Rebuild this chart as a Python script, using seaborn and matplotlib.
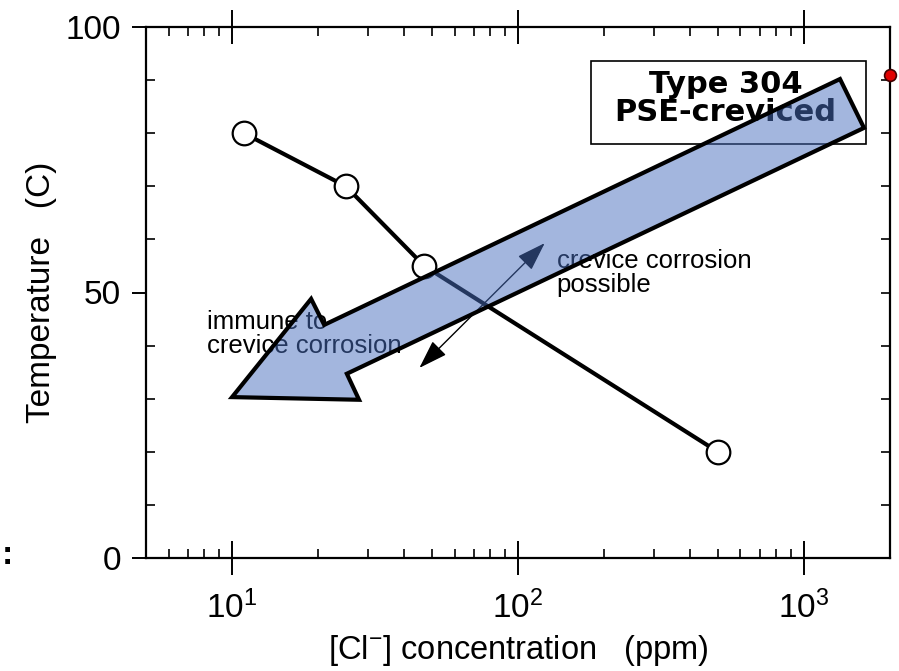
import matplotlib
matplotlib.use("Agg")
import matplotlib.pyplot as plt
import seaborn as sns
import numpy as np
import pandas as pd
from matplotlib.patches import Polygon, Rectangle
from matplotlib.ticker import FixedLocator, LogLocator, NullFormatter

# ---- data ----
chloride_ppm = [11, 25, 47, 500]
temperature_c = [80, 70, 55, 20]

x_limits = [5, 2000]
y_limits = [0, 100]
y_major = [0, 50, 100]
y_minor = [10, 20, 30, 40, 60, 70, 80, 90]

x_label = "[Cl$^{-}$] concentration   (ppm)"
y_label = "Temperature   (C)"
box_label = "Type 304\nPSE-creviced"
immune_label = "immune to\ncrevice corrosion"
possible_label = "crevice corrosion\npossible"

# big direction arrow outline (data coords: ppm, degC)
arrow_x = [1337, 1622, 25.2, 27.8, 10.0, 18.9, 21.0]
arrow_y = [90.2, 81.0, 34.7, 29.8, 30.3, 48.8, 43.9]

# thin double-headed arrow
dbl_start = (45.2, 35.8)
dbl_end = (124, 59.3)

df = pd.DataFrame({"chloride": chloride_ppm, "temperature": temperature_c})

sns.set_style("ticks")
plt.rcParams["font.family"] = ["Liberation Sans", "DejaVu Sans"]
plt.rcParams["mathtext.fontset"] = "custom"
plt.rcParams["mathtext.rm"] = "Liberation Sans"
plt.rcParams["mathtext.it"] = "Liberation Sans"
plt.rcParams["mathtext.default"] = "regular"
plt.rcParams["text.color"] = "black"
plt.rcParams["axes.labelcolor"] = "black"
plt.rcParams["xtick.color"] = "black"
plt.rcParams["ytick.color"] = "black"

fig = plt.figure(figsize=(8.99, 6.71), dpi=100)
ax = fig.add_axes([146 / 899, 1 - 558 / 671, (890 - 146) / 899, (558 - 27) / 671])
ax.set_xscale("log")

sns.lineplot(data=df, x="chloride", y="temperature", ax=ax, color="black",
             lw=3, marker="o", markersize=17, markerfacecolor="white",
             markeredgecolor="black", markeredgewidth=1.6, zorder=4)

ax.set_xlim(*x_limits)
ax.set_ylim(*y_limits)

for s in ax.spines.values():
    s.set_linewidth(1.6)
    s.set_color("black")
    s.set_visible(True)

# x ticks
ax.xaxis.set_major_locator(LogLocator(base=10, numticks=10))
ax.xaxis.set_minor_locator(LogLocator(base=10, subs=np.arange(2, 10), numticks=10))
ax.xaxis.set_minor_formatter(NullFormatter())
ax.tick_params(axis="x", which="major", direction="inout", length=25, width=1.4,
               top=True, bottom=True, labelsize=24, pad=11, colors="black")
ax.tick_params(axis="x", which="minor", direction="in", length=6.5, width=1.2,
               top=True, bottom=True)

# y ticks (left)
ax.yaxis.set_major_locator(FixedLocator(y_major))
ax.yaxis.set_minor_locator(FixedLocator(y_minor))
ax.tick_params(axis="y", which="major", direction="out", length=10, width=1.4,
               left=True, right=False, labelsize=24, pad=8, colors="black")
ax.tick_params(axis="y", which="minor", direction="in", length=6.5, width=1.2,
               left=True, right=False)

# y ticks (right, inward)
ax2 = ax.twinx()
ax2.set_ylim(*y_limits)
ax2.yaxis.set_major_locator(FixedLocator(y_major))
ax2.yaxis.set_minor_locator(FixedLocator(y_minor))
ax2.tick_params(axis="y", which="both", direction="in", length=6.5, width=1.2,
                labelright=False, right=True)
for s in ax2.spines.values():
    s.set_visible(False)
ax2.set_zorder(ax.get_zorder() - 1)
ax.patch.set_visible(False)

ax.set_xlabel(x_label, fontsize=23.5, labelpad=6, color="black")
ax.set_ylabel(y_label, fontsize=24, labelpad=6, color="black")

# legend-like box
ax.add_patch(Rectangle((0.598, 0.779), 0.370, 0.157, transform=ax.transAxes,
                       facecolor="white", edgecolor="black", lw=1.2, zorder=5))
ax.text(0.779, 0.866, box_label, transform=ax.transAxes, ha="center", va="center",
        fontsize=22, fontweight="bold", family="DejaVu Sans", linespacing=0.95,
        color="black", zorder=6)

# annotation texts
ax.text(8.17, 46.7, immune_label, ha="left", va="top", fontsize=18.5,
        linespacing=1.0, color="black", zorder=6)
ax.text(136.5, 58.2, possible_label, ha="left", va="top", fontsize=18.5,
        linespacing=1.0, color="black", zorder=6)

# thin double arrow
ax.annotate("", xy=dbl_end, xytext=dbl_start,
            arrowprops=dict(arrowstyle="<|-|>,head_length=0.9,head_width=0.3",
                            color="black", lw=1.0, mutation_scale=20,
                            shrinkA=0, shrinkB=0), zorder=6)

# big translucent arrow
verts = list(zip(arrow_x, arrow_y))
ax.add_patch(Polygon(verts, closed=True, facecolor="#486ebe", alpha=0.5,
                     edgecolor="none", zorder=10))
ax.add_patch(Polygon(verts, closed=True, fill=False, edgecolor="black", lw=3,
                     joinstyle="miter", zorder=11))

# red dot on right edge
ax.plot([2000], [91], marker="o", markersize=8.5, markerfacecolor="#e00000",
        markeredgecolor="#400000", markeredgewidth=1.2, clip_on=False, zorder=12)

fig.text(2 / 899, 1 - 555 / 671, ":", fontsize=24, fontweight="bold",
         ha="left", va="center", color="black")

fig.savefig("out.png", dpi=100)
